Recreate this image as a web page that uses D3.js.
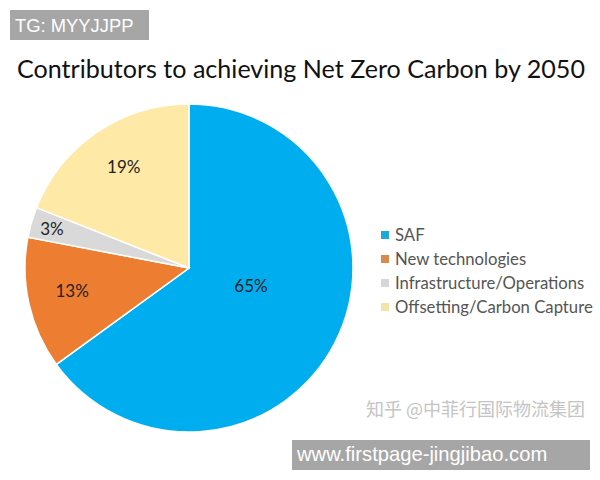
<!DOCTYPE html>
<html>
<head>
<meta charset="utf-8">
<script src="https://cdn.jsdelivr.net/npm/d3@7"></script>
<style>
html, body { margin: 0; padding: 0; background: #fff; }
svg { display: block; }
</style>
</head>
<body>
<script>
// chart data
var categories = ["SAF", "New technologies", "Infrastructure/Operations", "Offsetting/Carbon Capture"];
var shares = [65, 13, 3, 19];
var colors = ["#00aeef", "#ed7d31", "#d9d9d9", "#fee9a6"];
var legendColors = ["#1fa8dc", "#d98a4a", "#d6d6d6", "#f3e4a6"];
var title = "Contributors to achieving Net Zero Carbon by 2050";

var svg = d3.select("body")
  .append("svg")
  .attr("width", 600)
  .attr("height", 480);

svg.append("rect")
  .attr("width", 600)
  .attr("height", 480)
  .attr("fill", "#fff");

// title
svg.append("text")
  .attr("x", 301)
  .attr("y", 78)
  .attr("text-anchor", "middle")
  .attr("font-family", "Lato")
  .attr("font-size", 25.1)
  .attr("fill", "#111")
  .text(title);

// pie
var radius = 164;
var pie = d3.pie().sort(null).value(function(d) { return d; });
var arc = d3.arc().innerRadius(0).outerRadius(radius);

// label placement: fraction of the radius, then a small nudge
var labelRadius = d3.scaleOrdinal().domain(categories).range([0.39, 0.73, 0.87, 0.73]);
var labelNudge = d3.scaleOrdinal().domain(categories).range([[5, -11], [0, -3], [0, 1], [2, -2]]);

var g = svg.append("g").attr("transform", "translate(189,268)");

var slices = pie(shares);

g.selectAll(".slice")
  .data(slices)
  .enter().append("path")
  .attr("class", "slice")
  .attr("d", arc)
  .attr("fill", function(d, i) { return colors[i]; })
  .attr("stroke", "#fff")
  .attr("stroke-width", 1.5);

g.selectAll(".pct")
  .data(slices)
  .enter().append("text")
  .attr("class", "pct")
  .attr("transform", function(d, i) {
    var r = radius * labelRadius(categories[i]);
    var c = d3.arc().innerRadius(r).outerRadius(r).centroid(d);
    var n = labelNudge(categories[i]);
    return "translate(" + (c[0] + n[0]) + "," + (c[1] + n[1]) + ")";
  })
  .attr("dy", "0.35em")
  .attr("text-anchor", "middle")
  .attr("font-family", "Lato")
  .attr("font-size", 17)
  .attr("fill", "#222")
  .text(function(d) { return d.value + "%"; });

// legend
var legendY = d3.scalePoint().domain(categories).range([235, 307]);

var legend = svg.selectAll(".legend")
  .data(categories)
  .enter().append("g")
  .attr("class", "legend")
  .attr("transform", function(d) { return "translate(381," + legendY(d) + ")"; });

legend.append("rect")
  .attr("y", -4)
  .attr("width", 8)
  .attr("height", 8)
  .attr("fill", function(d, i) { return legendColors[i]; });

legend.append("text")
  .attr("x", 14)
  .attr("dy", "0.35em")
  .attr("font-family", "Lato")
  .attr("font-size", 16.7)
  .attr("fill", "#555")
  .text(function(d) { return d; });

// overlays from the source image
svg.append("rect")
  .attr("x", 10).attr("y", 10)
  .attr("width", 139).attr("height", 30)
  .attr("fill", "#a6a6a6");
svg.append("text")
  .attr("x", 15).attr("y", 32)
  .attr("font-family", "'Liberation Sans'")
  .attr("font-size", 18.4)
  .attr("fill", "#fff")
  .text("TG: MYYJJPP");

svg.append("text")
  .attr("x", 366).attr("y", 416)
  .attr("font-family", "'Noto Sans CJK SC'")
  .attr("font-size", 18)
  .attr("fill", "#c4c4c4")
  .text("知乎 @中菲行国际物流集团");

svg.append("rect")
  .attr("x", 292).attr("y", 440)
  .attr("width", 298).attr("height", 30)
  .attr("fill", "#a6a6a6");
svg.append("text")
  .attr("x", 297).attr("y", 461)
  .attr("font-family", "'Liberation Sans'")
  .attr("font-size", 20.2)
  .attr("fill", "#fff")
  .text("www.firstpage-jingjibao.com");
</script>
</body>
</html>
